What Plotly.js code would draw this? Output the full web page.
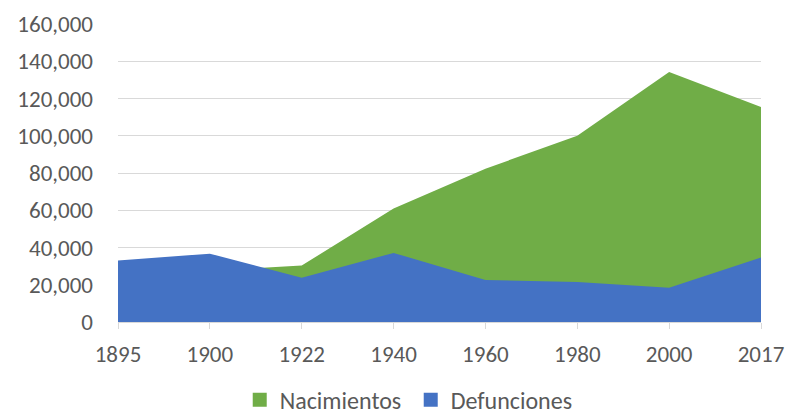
<!DOCTYPE html>
<html>
<head>
<meta charset="utf-8">
<script src="https://cdn.plot.ly/plotly-3.0.1.min.js"></script>
<style>html,body{margin:0;padding:0;background:#fff;}#chart{width:786px;height:415px;}</style>
</head>
<body>
<div id="chart"></div>
<script>
const years = ["1895", "1900", "1922", "1940", "1960", "1980", "2000", "2017"];
const nacimientos = [28000, 27600, 30300, 61000, 82300, 100000, 134200, 115400];
const defunciones = [33000, 36700, 23800, 37100, 22600, 21500, 18400, 34600];
const seriesNames = ["Nacimientos", "Defunciones"];
const seriesColors = ["#70AD47", "#4472C4"];

const font = "Calibri, Carlito, 'Open Sans', 'Liberation Sans', sans-serif";
const traces = [
  {x: years, y: nacimientos, name: seriesNames[0], type: "scatter", mode: "lines", showlegend: false,
   fill: "tozeroy", fillcolor: seriesColors[0], line: {width: 0, color: seriesColors[0]}},
  {x: years, y: defunciones, name: seriesNames[1], type: "scatter", mode: "lines", showlegend: false,
   fill: "tozeroy", fillcolor: seriesColors[1], line: {width: 0, color: seriesColors[1]}}
];
// legend entries with square swatches
seriesNames.forEach((n, i) => traces.push({
  x: [null], y: [null], name: n, type: "scatter", mode: "markers",
  marker: {symbol: "square", size: 14, color: seriesColors[i]}, showlegend: true
}));
const layout = {
  width: 786, height: 415,
  margin: {l: 118, r: 25, t: 24, b: 93},
  paper_bgcolor: "#fff", plot_bgcolor: "#fff",
  separators: ".,",
  font: {family: font, size: 23, color: "#595959"},
  showlegend: true,
  legend: {orientation: "h", x: 0.305, xanchor: "left", xref: "container",
           y: 0.036, yanchor: "middle", yref: "container",
           entrywidth: 126, entrywidthmode: "pixels",
           font: {size: 24, color: "#595959"}, itemwidth: 30, traceorder: "normal"},
  xaxis: {type: "category", range: [0, 7], showgrid: false, zeroline: false, automargin: false,
          showline: true, linecolor: "#d9d9d9", linewidth: 1,
          ticks: "outside", ticklen: 6, tickcolor: "#d9d9d9", ticklabelstandoff: 5,
          tickfont: {size: 23, color: "#595959"}},
  yaxis: {range: [0, 160000], dtick: 20000, tickformat: ",d", showgrid: true, automargin: false,
          gridcolor: "#d9d9d9", gridwidth: 1, zeroline: false, showline: false,
          ticks: "", ticklabelstandoff: 24, tickfont: {size: 23, color: "#595959"}}
};
Plotly.newPlot("chart", traces, layout, {displayModeBar: false, staticPlot: true});
</script>
</body>
</html>
